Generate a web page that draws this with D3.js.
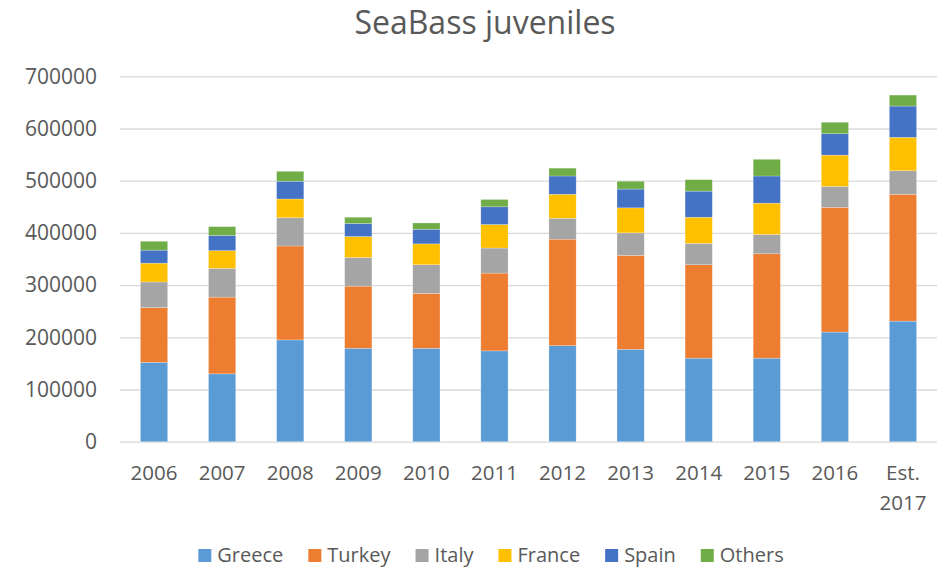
<!DOCTYPE html>
<html>
<head>
<meta charset="utf-8">
<script src="https://cdn.jsdelivr.net/npm/d3@7"></script>
<style>
  body { margin: 0; background: #fff; }
  text { font-family: "Open Sans", sans-serif; fill: #595959; }
</style>
</head>
<body>
<div id="chart"></div>
<script>
// Data
const years = ['2006', '2007', '2008', '2009', '2010', '2011', '2012', '2013', '2014', '2015', '2016', 'Est. 2017'];
const countries = ['Greece', 'Turkey', 'Italy', 'France', 'Spain', 'Others'];

const greece = [152000, 130000, 195000, 179000, 179000, 174000, 184000, 177000, 160000, 160000, 210000, 231000];
const turkey = [105000, 147000, 180000, 119000, 105000, 149000, 204000, 180000, 179000, 200000, 239000, 243000];
const italy  = [49000, 55000, 54000, 55000, 55000, 48000, 40000, 43000, 41000, 37000, 40000, 45000];
const france = [36000, 34000, 36000, 40000, 40000, 45000, 46000, 48000, 50000, 60000, 60000, 64000];
const spain  = [25000, 29000, 34000, 25000, 28000, 34000, 35000, 36000, 50000, 52000, 41000, 60000];
const others = [17000, 17000, 19000, 12000, 12000, 14000, 15000, 15000, 22000, 32000, 22000, 21000];

const yTicks = [0, 100000, 200000, 300000, 400000, 500000, 600000, 700000];

const colors = {
  Greece: '#5B9BD5',
  Turkey: '#ED7D31',
  Italy: '#A5A5A5',
  France: '#FFC000',
  Spain: '#4472C4',
  Others: '#70AD47'
};

const width = 944, height = 567;
const plot = {left: 120, right: 937, top: 76.3, bottom: 441.7};

const rows = years.map((y, i) => ({
  year: y,
  Greece: greece[i], Turkey: turkey[i], Italy: italy[i],
  France: france[i], Spain: spain[i], Others: others[i]
}));

const series = d3.stack().keys(countries)(rows);

const svg = d3.select('#chart')
  .append('svg')
  .attr('width', width)
  .attr('height', height);

const x = d3.scaleBand()
  .domain(years)
  .range([plot.left, plot.right])
  .paddingInner(0.6)
  .paddingOuter(0.3);

const y = d3.scaleLinear()
  .domain([0, 700000])
  .range([plot.bottom, plot.top]);

// title
svg.append('text')
  .attr('x', 485)
  .attr('y', 34)
  .attr('text-anchor', 'middle')
  .style('font-size', '32px')
  .text('SeaBass juveniles');

// gridlines + y labels
const yAxis = svg.append('g')
  .attr('transform', `translate(${plot.left},0)`)
  .call(d3.axisLeft(y).tickValues(yTicks).tickSize(-(plot.right - plot.left)).tickPadding(23).tickFormat(d3.format('d')));
yAxis.select('.domain').remove();
yAxis.selectAll('.tick line').attr('stroke', '#D9D9D9').attr('stroke-width', 1.3);
yAxis.selectAll('.tick text')
  .style('font-size', '21px')
  .style('font-family', '"Open Sans", sans-serif')
  .attr('fill', '#595959');

// bars
svg.append('g')
  .selectAll('g')
  .data(series)
  .join('g')
  .attr('fill', d => colors[d.key])
  .selectAll('rect')
  .data(d => d)
  .join('rect')
  .attr('x', d => x(d.data.year))
  .attr('y', d => y(d[1]))
  .attr('width', x.bandwidth())
  .attr('height', d => y(d[0]) - y(d[1]))
  .attr('stroke', '#fff')
  .attr('stroke-opacity', 0.4)
  .attr('stroke-width', 0.6);

// x labels
const xLabels = svg.append('g');
years.forEach(yr => {
  const parts = yr.split(' ');
  const t = xLabels.append('text')
    .attr('text-anchor', 'middle')
    .attr('x', x(yr) + x.bandwidth() / 2)
    .attr('y', 480)
    .style('font-size', '20.5px');
  parts.forEach((p, i) => {
    t.append('tspan')
      .attr('x', x(yr) + x.bandwidth() / 2)
      .attr('dy', i === 0 ? 0 : 30)
      .text(p);
  });
});

// legend
const legend = svg.append('g');
let lx = 0;
countries.forEach(c => {
  const item = legend.append('g').attr('transform', `translate(${lx},0)`);
  item.append('rect')
    .attr('x', 0).attr('y', 549)
    .attr('width', 13).attr('height', 13)
    .attr('fill', colors[c]);
  const t = item.append('text')
    .attr('x', 19).attr('y', 562)
    .style('font-size', '20px')
    .text(c);
  lx += 19 + t.node().getComputedTextLength() + 25;
});
const legendWidth = lx - 25;
legend.attr('transform', `translate(${491 - legendWidth / 2},0)`);
</script>
</body>
</html>
